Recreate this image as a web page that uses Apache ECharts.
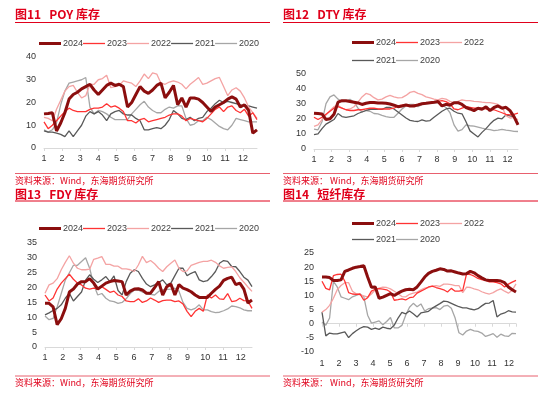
<!DOCTYPE html>
<html><head><meta charset="utf-8">
<script src="https://cdn.jsdelivr.net/npm/echarts@6/dist/echarts.min.js"></script>
<style>html,body{margin:0;padding:0;background:#fff}#c{width:550px;height:395px}</style>
</head><body><div id="c"></div>
<script>
// ---------- data (weekly values, x axis = month 1..12) ----------
const years = ['2024','2023','2022','2021','2020'];
const monthLabels = [1,2,3,4,5,6,7,8,9,10,11,12];

const poy2024 = [15,15.2,15.5,7.5,11,15.5,21.5,23.5,24.5,26,27,28,25.5,23.5,25.5,27.5,28.5,27.5,28,27,18,20,23.5,27,25,24,25.5,27.5,28.5,22,24.5,27.5,19,22,18,22,22,21.5,20,18,16,18,19,20,21.5,22.5,21.5,18,19,16.5,6.5,8];
const poy2023 = [11.5,8.5,10,12,14,16,17.5,16.5,16,16,16,17,17.5,17.5,18,19.5,18,18.5,17.5,16,12,12,11,12.5,13,11.5,12,12.5,13,13.5,14.5,15,15,14,12,13,12.5,12,11.5,13,15,17,18,16,18,18.5,16.5,15.5,17,14,15.5,12.5];
const poy2022 = [13.5,13,12,17,21,25,27,27.5,24.5,22,23,28,28,30,30.5,32,26.5,27,27.5,29.5,29,28.5,27,29.5,32.5,30.5,33,32.5,28.5,28,29,29.5,29,28,26,28,29.5,31,28,28.5,29.5,30.5,31,27,23,25.5,26.5,25,22,18,15.5,13];
const poy2021 = [7.5,7,7,6.5,6,5,7.5,5,7.5,10,14,16,15,16,14.5,12,15,16,16.5,15,14.5,14.5,13,12,8,8,8.5,9,8.5,10,12.5,16.5,15,13,12.5,13.5,12,13,13.5,16,17.5,19.5,21,20,20.5,20,19.5,19,18.5,18.5,18,17.5];
const poy2020 = [8,7,8,11,19,25,28.5,29,29.5,30,31,18,15,16.5,16,15,13.5,12.5,12.5,12.5,12.5,15,17,19,20.5,18,16.5,15.5,15.5,17,18,17.5,18.5,18.5,13,10,10.5,12,12,13.5,12.5,11,9.5,8.5,8,10,13,12.5,12,11.5,11.5,11.5];

const dty2024 = [23.7,23.5,23.2,19.5,20,23,31,32,32,31.5,31,30.5,29.5,30.3,30.8,30.8,30.5,30.5,30.3,29.8,29,28,28.5,29.2,28.5,28.5,29.2,30,30.3,30.7,31,31.4,28.5,29.6,29,30.7,30.7,29.5,27.5,26.5,25.4,27,26.3,28,25.4,27.5,28.5,27,27.6,25.4,21.5,16];
const dty2023 = [21,19.5,21,23,25,27,28,27,26,25.5,25.5,26,26,26.5,27,27,26.5,26.5,26.5,26.5,27,28.5,29,28.5,28.5,29,29.5,30,30.3,30.5,31,31.5,32,31.4,30,26.5,26,27,28,27.5,27,27,27,26.5,26.3,26,25,24,23,22.6,23,23.7];
const dty2022 = [15,16,19.5,22.5,25.5,28,29,27,26,26.5,28,31,34.5,36.8,36,34,32.5,33,34.5,35.5,34.5,33.8,34,35.5,37.5,38.2,36.8,36,34.5,33.8,33,32.5,33.5,33,31.5,30.5,31.5,32.5,32,32,31.5,31.4,31,30.7,30.7,30.2,29.5,28,22,20.5,21,19.3];
const dty2021 = [9.5,10,13.5,16.5,18,19.5,23.5,21.5,21,21.5,22,23.5,24.5,25.5,26.3,26.3,26.3,26.3,27.5,27.5,26.5,24.5,22.5,20.5,19,18.5,18.2,19.3,18.5,18.8,21,23,25,26.5,27,25,23.7,23.3,18,12,10,8,11,13.5,16.5,19,20.4,20,22.6,22,21.5,17];
const dty2020 = [13.2,12.7,18,30,34.5,35.8,33,31.4,31.5,32.9,31,27,24.5,25.5,25,23.5,23.2,22.2,21.5,21,21,23.7,26.5,28.5,29.5,29.5,28,29.5,30,30.3,30.5,30.7,29,27.5,24,16,11.8,12.8,16,15.4,15.2,14.5,13.8,13.2,12.8,12.2,12.5,13,12.5,12.2,11.7,11.6];

const fdy2024 = [14.7,14.7,13.5,7.5,9.5,13,18.5,19.5,21.2,22,22,23,21.5,19.5,20.5,21.5,22,22.4,22.2,22,17.5,18.8,19.5,19.6,19.2,18.1,18.1,20,22,17.5,20.3,21.2,17.5,21,19.8,19.3,18.6,17.5,16.7,16.7,16.7,18.1,19.4,20.5,22.4,23.1,23.5,21,21.5,19.5,14.8,15.8];
const fdy2023 = [17.5,15.5,16.5,19.5,21.5,23,24.5,22.8,21.5,20.9,19.8,19.5,19.8,19.6,20.3,19.4,18.4,18.8,17.5,17,15.5,15.3,15.3,16.2,15,15.5,16.5,15.8,15,15.6,15.8,15.8,15.3,15.5,14.5,12,10.2,12,13,12,17.5,16.5,17.5,16.2,16,18,15.3,15.5,16.4,15.6,15.5,13];
const fdy2022 = [18.1,20.9,21.5,23,26,28.5,30.7,28.2,26.5,26,26,26.2,29.5,29.9,30.4,27.8,27.8,27.2,27.2,26.3,26.3,26,25.4,27.6,30.5,28.4,29.1,28,26.5,25.4,27,28.2,29.3,26.5,25.4,25.6,27.5,28,28.5,28.8,28.8,29.2,28.5,27.3,26.5,26.8,27,25.4,23.3,21.8,20.2,18.7];
const fdy2021 = [10.8,11.5,12.3,13,14.2,16.4,18.1,15.5,17,18.5,22.5,24.3,22.8,21.7,22.6,23.7,22,23.9,19,17.5,22,24.8,26,25.4,23.1,21.2,20.3,20.9,21.7,22.6,20.9,21.5,24,26.5,26.5,24,24.8,25.4,22.6,22,22.3,23.7,25.4,28.2,29.1,28.8,27.1,27,25.4,23.5,22.5,20.3];
const fdy2020 = [10.4,9.2,9.6,13.5,18,22.5,25,27.5,27.5,28.8,30,26.5,21,17.5,18,16.4,15.5,15.3,14.7,15,16.2,18,19.2,19.1,18.5,18,17.7,17.5,18.7,19.2,19.4,19.5,19.8,18.8,15,13,12.5,13,14.2,12.5,12.5,11.9,11.6,11.7,12.2,12.8,13.8,13.6,13.2,12.5,12.2,12.2];

const psf2024 = [16.5,16.5,16.3,15.3,15.3,15.5,18.5,19,19.6,20,20.2,20.5,16.5,12.9,13,9,9.4,10,10.6,10,10.8,11.5,12,12.2,12,13,14.7,16.5,17.8,18.5,18.9,19.4,19.2,18.6,18.7,18.3,17.9,17.6,17.7,18.5,18,17,16.2,15.5,15.3,15.3,15.3,15.1,14.5,13,12,11.2];
const psf2023 = [15,12.5,12,17,17.4,17.5,15,11,10.5,10.4,10.5,8.3,9.2,11.5,12.2,12.4,12.2,12,11.2,8.3,8.5,8.8,8.4,9.2,9.4,10.8,11.5,12.2,13,13.3,12.8,12.4,12,11.2,12.5,11.5,11.5,11.8,17.6,17.4,16.8,16,15.6,15.3,14.8,14.8,14.5,14.1,13,14,14.7,15.3];
const psf2022 = [4.1,5,6.5,9,12,13.5,14.5,14.5,11.5,10.6,10.2,9.8,9.4,10.5,12,12.6,12.9,12.8,12.3,11.5,10.6,9.6,9.5,10.4,10.8,11.2,12,12.6,12.8,13.3,13.5,13.2,14,14,13.8,13.5,13.5,11,12.9,12.8,12.3,12,11.3,10.8,10.5,11,11.8,12.3,11.5,10.8,11.8,14.1];
const psf2021 = [4.1,-4.3,-3.3,-3.6,-3.6,-3.2,-2.9,-4.9,-3.5,-2.5,-1.6,-1,-1.2,-2,-1.6,-2,-1.2,-1.6,-1.8,-0.5,2,4,3.5,4.5,3.5,2.4,3.8,4.1,4.4,5.5,6.3,7.1,8,7.8,7.2,6.6,6,5.6,5.6,5.2,4.9,5.3,6.3,7.2,7.3,8.2,2.4,3.4,3.8,4.6,4.2,4.1];
const psf2020 = [0.6,-0.5,2,15,13,9.5,9,8.5,9.5,10,10.5,9.5,3,0.2,0.6,1,-0.4,0.8,2.2,-1.5,-1.5,-0.6,3,5.8,7.2,6,7,4.5,5.3,5.5,5.7,5,6.2,6.5,5.5,2,-3.2,-4,-2.6,-2,-2.5,-2.7,-3.3,-4.5,-4,-3.5,-4.8,-3.7,-4.3,-4.5,-3.4,-3.5];

// ---------- chart ----------
const RED = '#E0001B';
const styleOf = {
  '2024': {color:'#8B0E0E', width:3},
  '2023': {color:'#FF3333', width:1.3},
  '2022': {color:'#F4A3A3', width:1.3},
  '2021': {color:'#595959', width:1.3},
  '2020': {color:'#A6A6A6', width:1.3}
};
const panels = [
  {sets:{'2024':poy2024,'2023':poy2023,'2022':poy2022,'2021':poy2021,'2020':poy2020}, xEnd:12.77,
   grid:{left:44,right:293,top:57,bottom:247}, y:{min:0,max:40,interval:10}},
  {sets:{'2024':dty2024,'2023':dty2023,'2022':dty2022,'2021':dty2021,'2020':dty2020}, xEnd:12.6,
   grid:{left:314,right:32,top:73.5,bottom:246}, y:{min:0,max:50,interval:10}},
  {sets:{'2024':fdy2024,'2023':fdy2023,'2022':fdy2022,'2021':fdy2021,'2020':fdy2020}, xEnd:12.63,
   grid:{left:45,right:298,top:243,bottom:48}, y:{min:0,max:35,interval:5}},
  {sets:{'2024':psf2024,'2023':psf2023,'2022':psf2022,'2021':psf2021,'2020':psf2020}, xEnd:12.41,
   grid:{left:322,right:34,top:253,bottom:43}, y:{min:-10,max:25,interval:5}}
];
const NUMFONT = 'Liberation Sans, Arial, sans-serif';
const CJK = 'Noto Sans CJK SC, sans-serif';
const lblFmt = v => (monthLabels.indexOf(v) >= 0 ? String(v) : '');

const grids = [], xAxes = [], yAxes = [], series = [];
panels.forEach((p, i) => {
  grids.push(p.grid);
  xAxes.push({
    type:'value', gridIndex:i, min:1, max:p.xEnd, interval:1, position:'bottom',
    axisLine:{show:i!==3, onZero:false, lineStyle:{color:'#D9D9D9', width:1}},
    axisTick:{show:i!==3, length:3, lineStyle:{color:'#D9D9D9'}},
    axisLabel:{fontSize:9, color:'#333333', margin:i===3?7:6, fontFamily:NUMFONT, formatter:lblFmt, showMaxLabel:false},
    splitLine:{show:false}
  });
  yAxes.push({
    type:'value', gridIndex:i, min:p.y.min, max:p.y.max, interval:p.y.interval,
    axisLine:{show:false}, axisTick:{show:false}, splitLine:{show:false},
    axisLabel:{fontSize:9, color:'#333333', margin:8, fontFamily:NUMFONT}
  });
  years.slice().reverse().forEach(yr => {
    const vals = p.sets[yr];
    const n = vals.length;
    series.push({
      type:'line', name:yr, xAxisIndex:i, yAxisIndex:i,
      data: vals.map((v,k) => [1 + k*(p.xEnd-1)/(n-1), v]),
      symbol:'none', smooth:false, animation:false,
      lineStyle:{color:styleOf[yr].color, width:styleOf[yr].width},
      itemStyle:{color:styleOf[yr].color},
      z: yr==='2024' ? 5 : 3
    });
  });
});
// zero axis line for the short-fibre panel (labels stay at the bottom)
xAxes.push({
  type:'value', gridIndex:3, min:1, max:panels[3].xEnd, interval:1, position:'bottom',
  axisLine:{show:true, onZero:true, lineStyle:{color:'#D9D9D9', width:1}},
  axisTick:{show:true, length:3, lineStyle:{color:'#D9D9D9'}},
  axisLabel:{show:false}, splitLine:{show:false}
});

// legend icons: plain horizontal strokes (thick for 2024)
const ICON_THICK = 'path://M0,0M22,8M0,2.5L22,2.5L22,5.5L0,5.5Z';
const ICON_THIN = 'path://M0,0M22,8M0,3.35L22,3.35L22,4.65L0,4.65Z';
const legItem = yr => ({name:yr, icon: yr==='2024' ? ICON_THICK : ICON_THIN});
const legendBase = {
  itemWidth:22, itemHeight:8, itemGap:0, selectedMode:false,
  textStyle:{fontSize:9, color:'#404040', fontFamily:NUMFONT, padding:[0,0,0,-3]}
};
const legends = [
  Object.assign({}, legendBase, {data:years.map(legItem), left:34, top:34}),
  Object.assign({}, legendBase, {data:['2024','2023','2022'].map(legItem), left:347, top:33}),
  Object.assign({}, legendBase, {data:['2021','2020'].map(legItem), left:347, top:51}),
  Object.assign({}, legendBase, {data:years.map(legItem), left:34, top:219}),
  Object.assign({}, legendBase, {data:['2024','2023','2022'].map(legItem), left:347, top:214}),
  Object.assign({}, legendBase, {data:['2021','2020'].map(legItem), left:347, top:230})
];

function title(x, y, t){ return {type:'text', left:x, top:y, style:{text:t, fill:RED, font:'bold 12px ' + CJK}}; }
function hline(x1, x2, y, c){ return {type:'line', shape:{x1:x1, y1:y, x2:x2, y2:y}, style:{stroke:c, lineWidth:1}}; }
function src(x, y, t){ return {type:'text', left:x, top:y, style:{text:t, fill:RED, font:'9px ' + CJK}}; }
const SRCLINE = '#E8606E';
const graphic = [
  title(15, 8, '图11   POY 库存'), hline(15, 270, 22.5, RED),
  title(283, 8, '图12   DTY 库存'), hline(283, 538, 22.5, RED),
  hline(15, 270, 173.5, SRCLINE), src(15, 176, '资料来源：Wind，东海期货研究所'),
  hline(283, 538, 173.5, SRCLINE), src(283, 176, '资料来源： Wind，东海期货研究所'),
  title(15, 188, '图13   FDY 库存'), hline(15, 270, 201, RED),
  title(283, 188, '图14   短纤库存'), hline(283, 538, 201, RED),
  hline(15, 270, 376, SRCLINE), src(15, 378.5, '资料来源：Wind，东海期货研究所'),
  hline(283, 538, 376, SRCLINE), src(283, 378.5, '资料来源： Wind，东海期货研究所')
];

const chart = echarts.init(document.getElementById('c'), null, {renderer:'canvas'});
chart.setOption({
  backgroundColor:'#ffffff', animation:false,
  grid:grids, xAxis:xAxes, yAxis:yAxes, legend:legends, series:series, graphic:graphic
});
</script>
</body></html>
